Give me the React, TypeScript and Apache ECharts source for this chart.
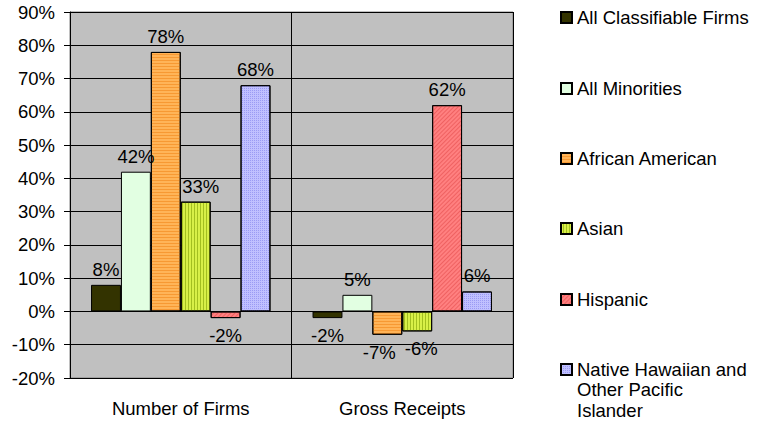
import React, { useEffect, useRef } from "react";
import * as echarts from "echarts";

const categories = ["Number of Firms", "Gross Receipts"];
const seriesNames = [
  "All Classifiable Firms",
  "All Minorities",
  "African American",
  "Asian",
  "Hispanic",
  "Native Hawaiian and Other Pacific Islander",
];
const allClassifiable = [8, -2];
const allMinorities = [42, 5];
const africanAmerican = [78, -7];
const asian = [33, -6];
const hispanic = [-2, 62];
const nativeHawaiian = [68, 6];
const seriesValues = [allClassifiable, allMinorities, africanAmerican, asian, hispanic, nativeHawaiian];
const seriesColors = ["#333300", "#E2FFE2", "#FFB458", "#D8F048", "#FF8080", "#C0C0FF"];
const legendCenters = [14, 85, 155, 225, 296, 366];

const FONT = "'Liberation Sans', Arial, sans-serif";
const FS = 18.5;

const decals: any[] = [
  undefined,
  undefined,
  { symbol: "rect", symbolSize: 1, color: "rgba(240,130,20,0.55)", dashArrayX: [1, 0], dashArrayY: [1, 2], rotation: 0 },
  { symbol: "rect", symbolSize: 1, color: "rgba(120,150,0,0.55)", dashArrayX: [1, 0], dashArrayY: [1, 2], rotation: Math.PI / 2 },
  { symbol: "rect", symbolSize: 1, color: "rgba(220,60,60,0.45)", dashArrayX: [1, 0], dashArrayY: [1, 2], rotation: -Math.PI / 4 },
  { symbol: "rect", symbolSize: 1, color: "rgba(110,110,230,0.45)", dashArrayX: [1, 1], dashArrayY: [1, 1], rotation: 0 },
];

// small horizontal nudges so neighbouring labels do not collide (series index, category index)
function labelNudge(si: number, ci: number): number {
  if (si === 2 && ci === 1) return -8;
  if (si === 3 && ci === 1) return 4;
  if (si === 3 && ci === 0) return 5;
  return 0;
}

export default function App() {
  const ref = useRef<HTMLDivElement>(null);
  useEffect(() => {
    if (!ref.current) return;
    const chart = echarts.init(ref.current, null, { renderer: "svg" });
    const option: any = {
      animation: false,
      backgroundColor: "#ffffff",
      textStyle: { fontFamily: FONT },
      grid: {
        left: 70,
        right: 252,
        top: 12,
        bottom: 43,
        show: true,
        backgroundColor: "#C0C0C0",
        borderColor: "#808080",
        borderWidth: 1,
      },
      xAxis: {
        type: "category",
        data: categories,
        axisLine: { show: false, onZero: false },
        axisTick: { show: false },
        axisLabel: { margin: 21, fontSize: FS, color: "#000", fontFamily: FONT },
        splitLine: { show: true, lineStyle: { color: "#000", width: 1 } },
      },
      yAxis: {
        type: "value",
        min: -20,
        max: 90,
        interval: 10,
        axisLine: { show: true, lineStyle: { color: "#000" } },
        axisTick: { show: true, length: 6, lineStyle: { color: "#000" } },
        axisLabel: { formatter: "{value}%", fontSize: FS, color: "#000", margin: 15, fontFamily: FONT },
        splitLine: { show: true, lineStyle: { color: "#000", width: 1 } },
      },
      legend: seriesNames.map((n, i) => ({
        data: [n],
        orient: "vertical",
        left: 560,
        top: legendCenters[i] - 6,
        itemWidth: 11,
        itemHeight: 11,
        icon: "rect",
        itemGap: 5,
        padding: 0,
        selectedMode: false,
        formatter: i === 5 ? () => "Native Hawaiian and" : undefined,
        textStyle: { fontSize: FS, color: "#000", fontFamily: FONT },
      })),
      graphic: [
        {
          type: "text",
          left: 577,
          top: 379,
          style: {
            text: "Other Pacific\nIslander",
            fontSize: FS,
            lineHeight: 21,
            fill: "#000",
            fontFamily: FONT,
          },
        },
      ],
      series: seriesNames.map((n, i) => ({
        name: n,
        type: "bar",
        data: seriesValues[i].map((v, ci) => ({
          value: v,
          label: {
            position: v >= 0 ? "top" : "bottom",
            distance: v >= 0 ? 6 : 8,
            offset: [labelNudge(i, ci), 0],
          },
        })),
        barGap: "0%",
        barCategoryGap: "19%",
        itemStyle: { color: seriesColors[i], borderColor: "#000", borderWidth: 1, decal: decals[i] },
        label: {
          show: true,
          formatter: "{c}%",
          fontSize: FS,
          color: "#000",
          fontFamily: FONT,
        },
      })),
    };
    chart.setOption(option);
    return () => chart.dispose();
  }, []);
  return <div ref={ref} style={{ width: 765, height: 421, position: "absolute", left: 0, top: 0 }} />;
}
